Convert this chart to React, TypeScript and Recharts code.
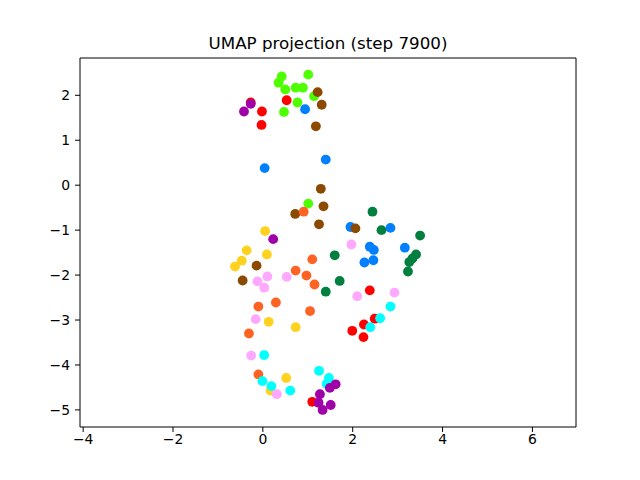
import { ScatterChart, Scatter, XAxis, YAxis, ReferenceLine } from "recharts"

// UMAP coordinates per class as [x, y]
const redPts = [
  [0.53, 1.89], [-0.27, 1.84], [-0.02, 1.64], [-0.03, 1.34], [2.38, -2.34],
  [1.99, -3.24], [2.25, -3.1], [2.49, -2.97], [2.24, -3.38], [1.1, -4.82],
]
const greenPts = [
  [0.42, 2.42], [0.35, 2.28], [1.01, 2.46], [0.5, 2.13], [0.73, 2.17],
  [0.89, 2.17], [1.14, 1.98], [0.77, 1.84], [0.47, 1.63], [1.01, -0.41],
]
const bluePts = [
  [0.94, 1.69], [1.4, 0.57], [0.04, 0.38], [1.95, -0.93], [2.84, -0.95],
  [2.38, -1.37], [2.47, -1.44], [3.16, -1.39], [2.26, -1.72], [2.46, -1.67],
]
const brownPts = [
  [1.22, 2.07], [1.31, 1.79], [1.18, 1.31], [1.29, -0.08], [1.35, -0.47],
  [0.72, -0.64], [1.25, -0.87], [2.06, -0.96], [-0.14, -1.79], [-0.45, -2.12],
]
const darkGreenPts = [
  [2.44, -0.59], [2.64, -1.0], [3.5, -1.12], [3.41, -1.54], [3.33, -1.63],
  [3.26, -1.71], [3.23, -1.92], [1.6, -1.56], [1.71, -2.13], [1.4, -2.37],
]
const yellowPts = [
  [0.05, -1.02], [-0.36, -1.45], [0.09, -1.54], [-0.47, -1.68], [-0.62, -1.81],
  [0.13, -3.04], [0.73, -3.16], [0.52, -4.29], [0.17, -4.57],
]
const orangePts = [
  [0.91, -0.59], [1.1, -1.65], [0.73, -1.9], [0.97, -2.01], [1.15, -2.21],
  [-0.1, -2.7], [0.29, -2.61], [1.05, -2.8], [-0.31, -3.3], [-0.1, -4.21],
]
const pinkPts = [
  [1.97, -1.32], [0.53, -2.04], [0.1, -2.03], [-0.12, -2.14], [0.03, -2.28],
  [2.1, -2.47], [2.93, -2.39], [-0.16, -2.98], [-0.26, -3.79], [0.31, -4.65],
]
const cyanPts = [
  [2.84, -2.7], [2.61, -2.96], [2.39, -3.16], [0.03, -3.78], [1.25, -4.13],
  [1.47, -4.29], [-0.01, -4.36], [0.19, -4.47], [0.61, -4.57], [1.42, -4.42],
]
const purplePts = [
  [-0.27, 1.81], [-0.42, 1.64], [0.23, -1.2], [1.62, -4.43], [1.49, -4.51],
  [1.27, -4.65], [1.24, -4.84], [1.51, -4.89], [1.33, -5.0],
]

const xTicks = [-4, -2, 0, 2, 4, 6]
const yTicks = [-5, -4, -3, -2, -1, 0, 1, 2]
const xDomain = [-4.07, 6.97]
const yDomain = [-5.38, 2.83]

// draw order matters for overlaps
const groups = [
  { name: "red", color: "#ff0000", pts: redPts },
  { name: "green", color: "#4dff00", pts: greenPts },
  { name: "blue", color: "#0080ff", pts: bluePts },
  { name: "brown", color: "#8b4a00", pts: brownPts },
  { name: "darkgreen", color: "#007f3f", pts: darkGreenPts },
  { name: "yellow", color: "#ffd21f", pts: yellowPts },
  { name: "orange", color: "#ff6324", pts: orangePts },
  { name: "pink", color: "#ffa8ff", pts: pinkPts },
  { name: "cyan", color: "#00ffff", pts: cyanPts },
  { name: "purple", color: "#a000a8", pts: purplePts },
]

const fmt = (v: number) => String(v).replace("-", "\u2212")
const tickStyle = { fill: "#000", fontSize: 13.9 }

const Dot = (color: string) => (props: any) => (
  <circle cx={props.cx} cy={props.cy} r={4.9} fill={color} />
)

export default function App() {
  return (
    <div style={{ position: "absolute", left: 0, top: 0, width: 640, height: 480, background: "#fff", fontFamily: "'DejaVu Sans'" }}>
      <div
        style={{
          position: "absolute",
          left: 80,
          width: 496,
          top: 33,
          textAlign: "center",
          fontSize: 16.7,
          lineHeight: "normal",
          color: "#000",
        }}
      >
        UMAP projection (step 7900)
      </div>
      <ScatterChart
        width={640}
        height={480}
        margin={{ top: 58, right: 64, bottom: 0, left: 0 }}
        style={{ fontFamily: "'DejaVu Sans'" }}
      >
        <XAxis
          dataKey="x"
          type="number"
          domain={xDomain}
          ticks={xTicks}
          allowDataOverflow
          height={53}
          stroke="#000"
          tickSize={5}
          tickMargin={2}
          tick={tickStyle}
          tickFormatter={fmt}
        />
        <YAxis
          dataKey="y"
          type="number"
          domain={yDomain}
          ticks={yTicks}
          allowDataOverflow
          width={80}
          stroke="#000"
          tickSize={5}
          tickMargin={5}
          tick={tickStyle}
          tickFormatter={fmt}
        />
        {/* top and right spines */}
        <ReferenceLine y={yDomain[1]} stroke="#000" strokeWidth={1} />
        <ReferenceLine x={xDomain[1]} stroke="#000" strokeWidth={1} />
        {groups.map((g) => (
          <Scatter
            key={g.name}
            name={g.name}
            data={g.pts.map(([x, y]) => ({ x, y }))}
            fill={g.color}
            shape={Dot(g.color)}
            isAnimationActive={false}
          />
        ))}
      </ScatterChart>
    </div>
  )
}
